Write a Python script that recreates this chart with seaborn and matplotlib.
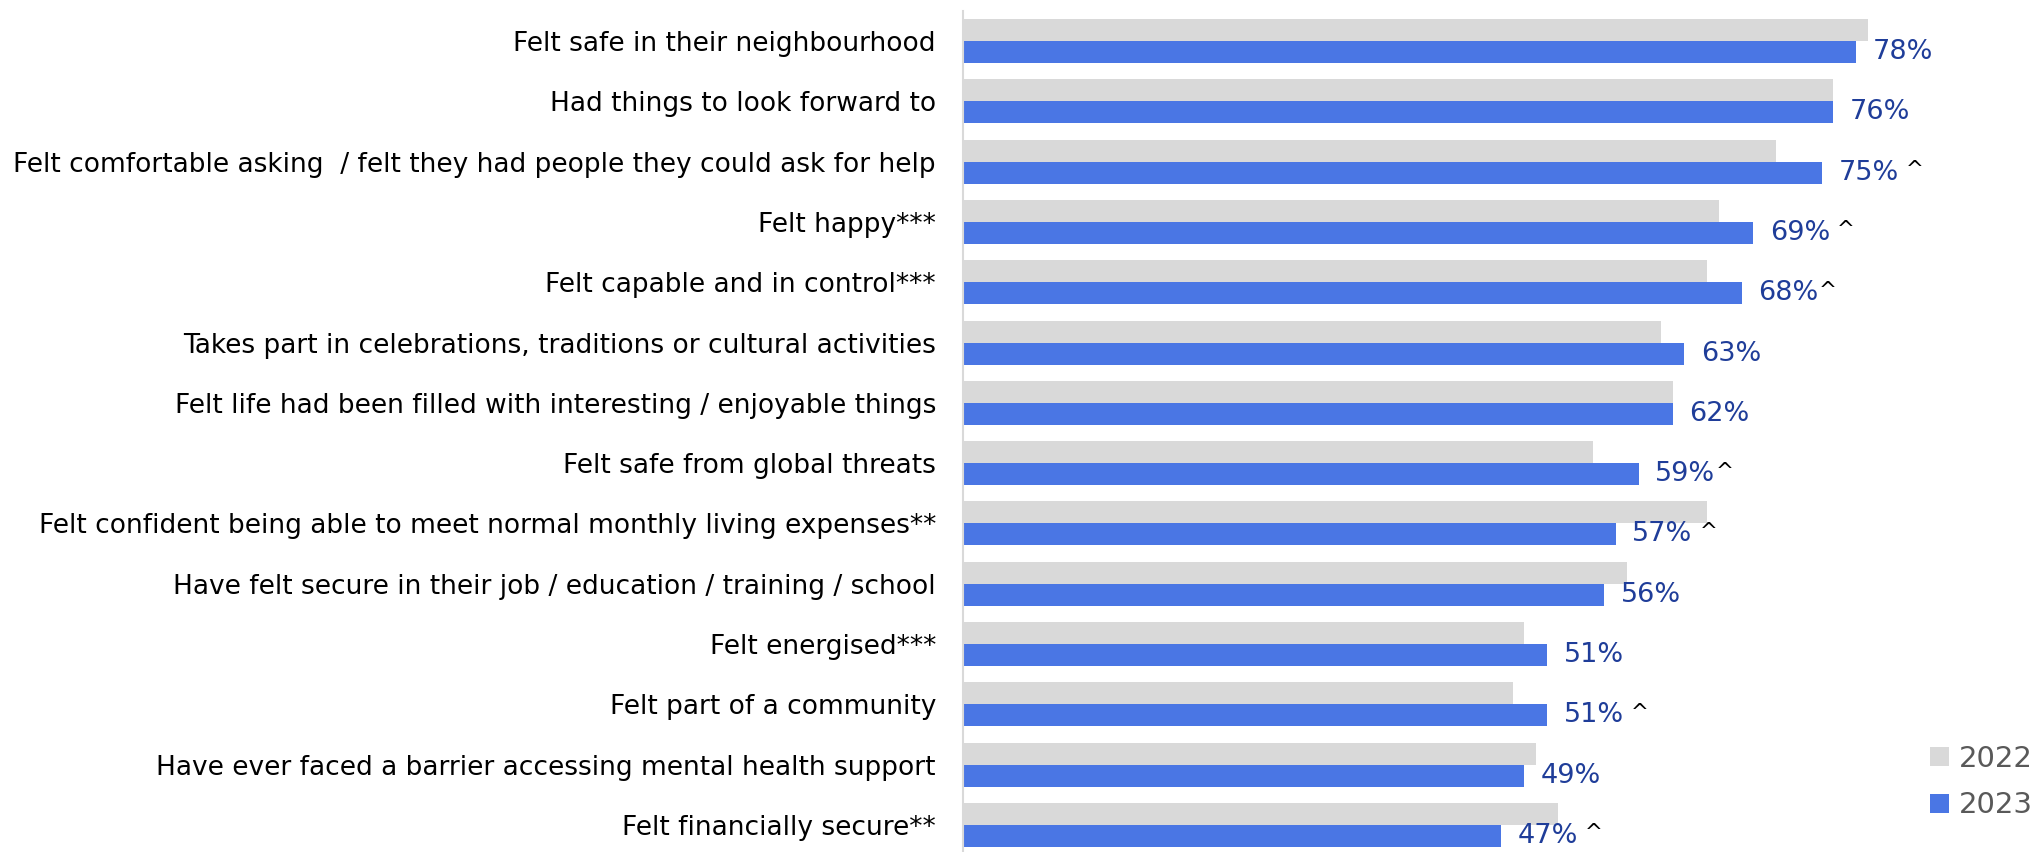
import matplotlib
matplotlib.use("Agg")
import matplotlib.pyplot as plt
from matplotlib.patches import Patch
from matplotlib.ticker import FixedLocator
import seaborn as sns
import pandas as pd

# Wellbeing indicators, share of respondents (%)
categories = [
    "Felt safe in their neighbourhood",
    "Had things to look forward to",
    "Felt comfortable asking  / felt they had people they could ask for help",
    "Felt happy***",
    "Felt capable and in control***",
    "Takes part in celebrations, traditions or cultural activities",
    "Felt life had been filled with interesting / enjoyable things",
    "Felt safe from global threats",
    "Felt confident being able to meet normal monthly living expenses**",
    "Have felt secure in their job / education / training / school",
    "Felt energised***",
    "Felt part of a community",
    "Have ever faced a barrier accessing mental health support",
    "Felt financially secure**",
]
pct_2022 = [79, 76, 71, 66, 65, 61, 62, 55, 65, 58, 49, 48, 50, 52]
pct_2023 = [78, 76, 75, 69, 68, 63, 62, 59, 57, 56, 51, 51, 49, 47]
# significance markers shown after the 2023 value
sig_marks = ["", "", " ^", " ^", "^", "", "", "^", " ^", "", "", " ^", "", " ^"]
years = ["2022", "2023"]

GREY = "#D9D9D9"
BLUE = "#4A76E4"
LABEL_BLUE = "#1F3D99"

df = pd.DataFrame({
    "category": categories * 2,
    "value": pct_2022 + pct_2023,
    "year": [years[0]] * len(categories) + [years[1]] * len(categories),
})

sns.set_theme(style="white")
plt.rcParams["font.family"] = ["DejaVu Sans"]

W, H = 2034, 852
fig = plt.figure(figsize=(W / 100, H / 100), dpi=100)
ax = fig.add_axes([963 / W, -3 / H, 1030.5 / W, 844 / H])

sns.barplot(
    data=df, y="category", x="value", hue="year", hue_order=years,
    order=categories, palette=[GREY, BLUE], width=0.73, orient="h",
    saturation=1, legend=False, linewidth=0, ax=ax,
)

ax.set_xlim(0, 90)
ax.set_ylim(len(categories) - 0.5, -0.5)
ax.set_xlabel("")
ax.set_ylabel("")
ax.xaxis.set_visible(False)
for side in ("top", "right", "bottom"):
    ax.spines[side].set_visible(False)
ax.spines["left"].set_color(GREY)
ax.spines["left"].set_linewidth(1.5)

# category labels at band centres, tick marks at band boundaries
ax.tick_params(axis="y", which="major", length=0, pad=19.5,
               labelsize=19, labelcolor="#000000")
ax.yaxis.set_minor_locator(FixedLocator([i - 0.5 for i in range(len(categories) + 1)]))
ax.tick_params(axis="y", which="minor", length=7.2, width=1.5, color=GREY)

# value labels on the 2023 bars
labels_2023 = [f"{v}%" for v in pct_2023]
texts = ax.bar_label(ax.containers[1], labels=labels_2023, padding=12,
                     color=LABEL_BLUE, fontsize=19.5)
for t, mark in zip(texts, sig_marks):
    if mark:
        ax.annotate(mark, xy=(1, 0.6), xycoords=t, ha="left", va="center",
                    fontsize=15.5, color="#000000")

# legend
handles = [Patch(facecolor=GREY, edgecolor="none", label=years[0]),
           Patch(facecolor=BLUE, edgecolor="none", label=years[1])]
fig.legend(handles=handles, loc="center right",
           bbox_to_anchor=(2033 / W, 1 - 782 / H), frameon=False,
           fontsize=21, labelcolor="#595959", handlelength=0.62,
           handleheight=0.62, handletextpad=0.36, labelspacing=0.65,
           borderpad=0, borderaxespad=0)

fig.savefig("out.png", dpi=100)
